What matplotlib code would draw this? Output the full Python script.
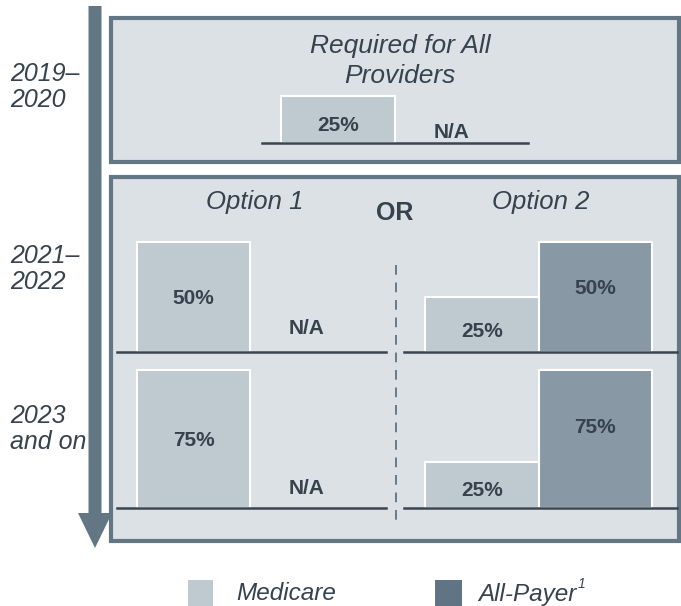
import matplotlib.pyplot as plt
import matplotlib.patches as mpatches

plt.rcParams['font.family'] = ['Liberation Sans', 'DejaVu Sans']

# data
periods = ['2019–\n2020', '2021–\n2022', '2023\nand on']
series = ['Medicare', 'All-Payer']
required_medicare = [25]
required_allpayer = [None]
option1_medicare = [50, 75]
option1_allpayer = [None, None]
option2_medicare = [25, 25]
option2_allpayer = [50, 75]

# colours
box_fill = '#dce1e5'
box_edge = '#627684'
medicare_col = '#bfc9d0'
allpayer_col = '#8898a5'
legend_ap_col = '#607483'
text_col = '#36424d'
base_col = '#3a4550'

W, H = 681, 606
fig = plt.figure(figsize=(W / 100, H / 100), dpi=100)

# background layer in pixel units
bg = fig.add_axes([0, 0, 1, 1])
bg.set_xlim(0, W)
bg.set_ylim(H, 0)
bg.axis('off')

# arrow
bg.add_patch(mpatches.FancyArrow(95, 6, 0, 542, width=13, head_width=34,
                                 head_length=35, length_includes_head=True,
                                 color=box_edge, lw=0))
# panels
bg.add_patch(mpatches.Rectangle((111, 18), 568, 144, facecolor=box_fill,
                                edgecolor=box_edge, lw=3))
bg.add_patch(mpatches.Rectangle((111, 177), 568, 364, facecolor=box_fill,
                                edgecolor=box_edge, lw=3))
bg.plot([396, 396], [265, 522], color='#6a7a87', lw=1.4, ls=(0, (5, 4)))

# period labels
for lbl, yy in zip(periods, [87, 269, 429]):
    bg.text(10, yy, lbl, fontsize=18, style='italic', color=text_col,
            ha='left', va='center', linespacing=1.15)

bg.text(400, 61, 'Required for All\nProviders', fontsize=19, style='italic',
        color=text_col, ha='center', va='center', linespacing=1.3)
bg.text(255, 202, 'Option 1', fontsize=18.5, style='italic', color=text_col,
        ha='center', va='center')
bg.text(541, 202, 'Option 2', fontsize=18.5, style='italic', color=text_col,
        ha='center', va='center')
bg.text(395, 213, 'OR', fontsize=18, fontweight='bold', color=text_col,
        ha='center', va='center')

# legend
bg.add_patch(mpatches.Rectangle((188, 580), 25, 26, facecolor=medicare_col, lw=0))
bg.add_patch(mpatches.Rectangle((435, 580), 27, 26, facecolor=legend_ap_col, lw=0))
bg.text(236, 594, series[0], fontsize=17.5, style='italic', color=text_col,
        ha='left', va='center')
t = bg.text(478, 594, series[1], fontsize=17.5, style='italic', color=text_col,
            ha='left', va='center')
bg.annotate('1', xy=(1, 1), xycoords=t, xytext=(1, -1),
            textcoords='offset points', fontsize=10, style='italic',
            color=text_col, ha='left', va='center')


def bar_group(left, right, baseline, bar_left, bar_w, px_per_pct, height,
              med, ap, na_off):
    ax = fig.add_axes([left / W, 1 - baseline / H, (right - left) / W, height / H])
    ax.set_xlim(-0.5 - (bar_left - left) / bar_w, -0.5 + (right - bar_left) / bar_w)
    ax.set_ylim(0, height / px_per_pct)
    ax.axis('off')
    ax.patch.set_alpha(0)
    for i, (v, col) in enumerate([(med, medicare_col), (ap, allpayer_col)]):
        if v is None:
            ax.annotate('N/A', xy=(i, 0), xytext=(0, na_off),
                        textcoords='offset pixels', ha='center', va='center',
                        fontsize=15, fontweight='bold', color=text_col)
            continue
        ax.bar(i, v, width=1, color=col, edgecolor='white', lw=1.5, zorder=2)
        frac = 0.58 if i == 1 else (0.49 if v >= 50 else 0.37)
        ax.text(i, v * frac, f'{v}%', ha='center', va='center',
                fontsize=15, fontweight='bold', color=text_col, zorder=3)
    ax.axhline(0, color=base_col, lw=1.8, zorder=4, clip_on=False)
    return ax


bar_group(262, 528, 143, 281, 114, 1.88, 60,
          required_medicare[0], required_allpayer[0], 11)
row_base = [352, 508]
row_scale = [2.2, 1.84]
row_na = [24, 20]
for r in range(2):
    bar_group(117, 386, row_base[r], 137, 113, row_scale[r], 150,
              option1_medicare[r], option1_allpayer[r], row_na[r])
    bar_group(404, 677, row_base[r], 425, 113.5, row_scale[r], 150,
              option2_medicare[r], option2_allpayer[r], 0)

fig.savefig('out.png', dpi=100)
